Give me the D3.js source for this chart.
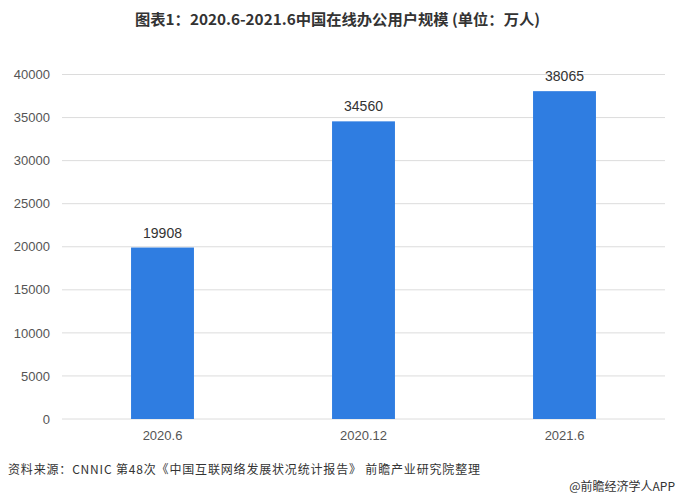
<!DOCTYPE html>
<html><head><meta charset="utf-8">
<script src="https://cdn.jsdelivr.net/npm/d3@7"></script>
<style>body{margin:0;background:#fff}svg{display:block;font-family:"Liberation Sans","Noto Sans CJK SC",sans-serif}</style>
</head><body>
<script>
const categories = ["2020.6", "2020.12", "2021.6"];
const values = [19908, 34560, 38065];
const yTicks = [0, 5000, 10000, 15000, 20000, 25000, 30000, 35000, 40000];
const title = "图表1：2020.6-2021.6中国在线办公用户规模 (单位：万人)";
const source = "资料来源：CNNIC 第48次《中国互联网络发展状况统计报告》 前瞻产业研究院整理";
const credit = "@前瞻经济学人APP";

(function(){
const W = 677, H = 500;
const svg = d3.select("body").append("svg").attr("width", W).attr("height", H);
const mL = 62, mR = 665, mT = 74.5, mB = 419;

const x = d3.scaleBand().domain(categories).range([mL, mR]).padding(0);
const y = d3.scaleLinear().domain([0, 40000]).range([mB, mT]);

// title
svg.append("text").attr("x", 135).attr("y", 25)
  .attr("font-size", 15).attr("font-weight", "bold").attr("fill", "#333")
  .attr("textLength", 405).attr("lengthAdjust", "spacingAndGlyphs")
  .attr("font-family", "'Noto Sans CJK SC',sans-serif").text(title);

// grid
svg.append("g").selectAll("line").data(yTicks).join("line")
  .attr("x1", mL).attr("x2", mR)
  .attr("y1", d => y(d)).attr("y2", d => y(d))
  .attr("stroke", "#dcdcdc").attr("stroke-width", 1);

// y axis
const yAxis = d3.axisLeft(y).tickValues(yTicks).tickSize(0).tickPadding(12).tickFormat(d3.format("d"));
const gy = svg.append("g").attr("transform", `translate(${mL},0)`).call(yAxis);
gy.select(".domain").remove();
gy.selectAll("text").attr("font-size", 13).attr("fill", "#555").attr("font-family", "'Liberation Sans',sans-serif");

// x axis
const xAxis = d3.axisBottom(x).tickSize(0).tickPadding(12);
const gx = svg.append("g").attr("transform", `translate(0,${mB})`).call(xAxis);
gx.select(".domain").remove();
gx.selectAll("text").attr("font-size", 13).attr("fill", "#555").attr("font-family", "'Liberation Sans',sans-serif");

// bars
const bw = x.bandwidth() * 0.313;
svg.append("g").selectAll("rect").data(values).join("rect")
  .attr("x", (d, i) => x(categories[i]) + x.bandwidth()/2 - bw/2)
  .attr("y", d => y(d)).attr("width", bw).attr("height", d => mB - y(d))
  .attr("fill", "#2f7de1");

// value labels
svg.append("g").selectAll("text").data(values).join("text")
  .attr("x", (d, i) => x(categories[i]) + x.bandwidth()/2)
  .attr("y", d => y(d) - 10).attr("text-anchor", "middle")
  .attr("font-size", 14).attr("fill", "#333").attr("font-family", "'Liberation Sans',sans-serif")
  .text(d => d);

// source
svg.append("text").attr("x", 8).attr("y", 474).attr("font-size", 12).attr("fill", "#333")
  .attr("textLength", 472).attr("lengthAdjust", "spacing")
  .attr("font-family", "'Noto Sans CJK SC',sans-serif").text(source);
svg.append("text").attr("x", 675).attr("y", 491).attr("text-anchor", "end").attr("font-size", 12).attr("fill", "#333")
  .attr("font-family", "'Noto Sans CJK SC',sans-serif").text(credit);
})();
</script>
</body></html>
